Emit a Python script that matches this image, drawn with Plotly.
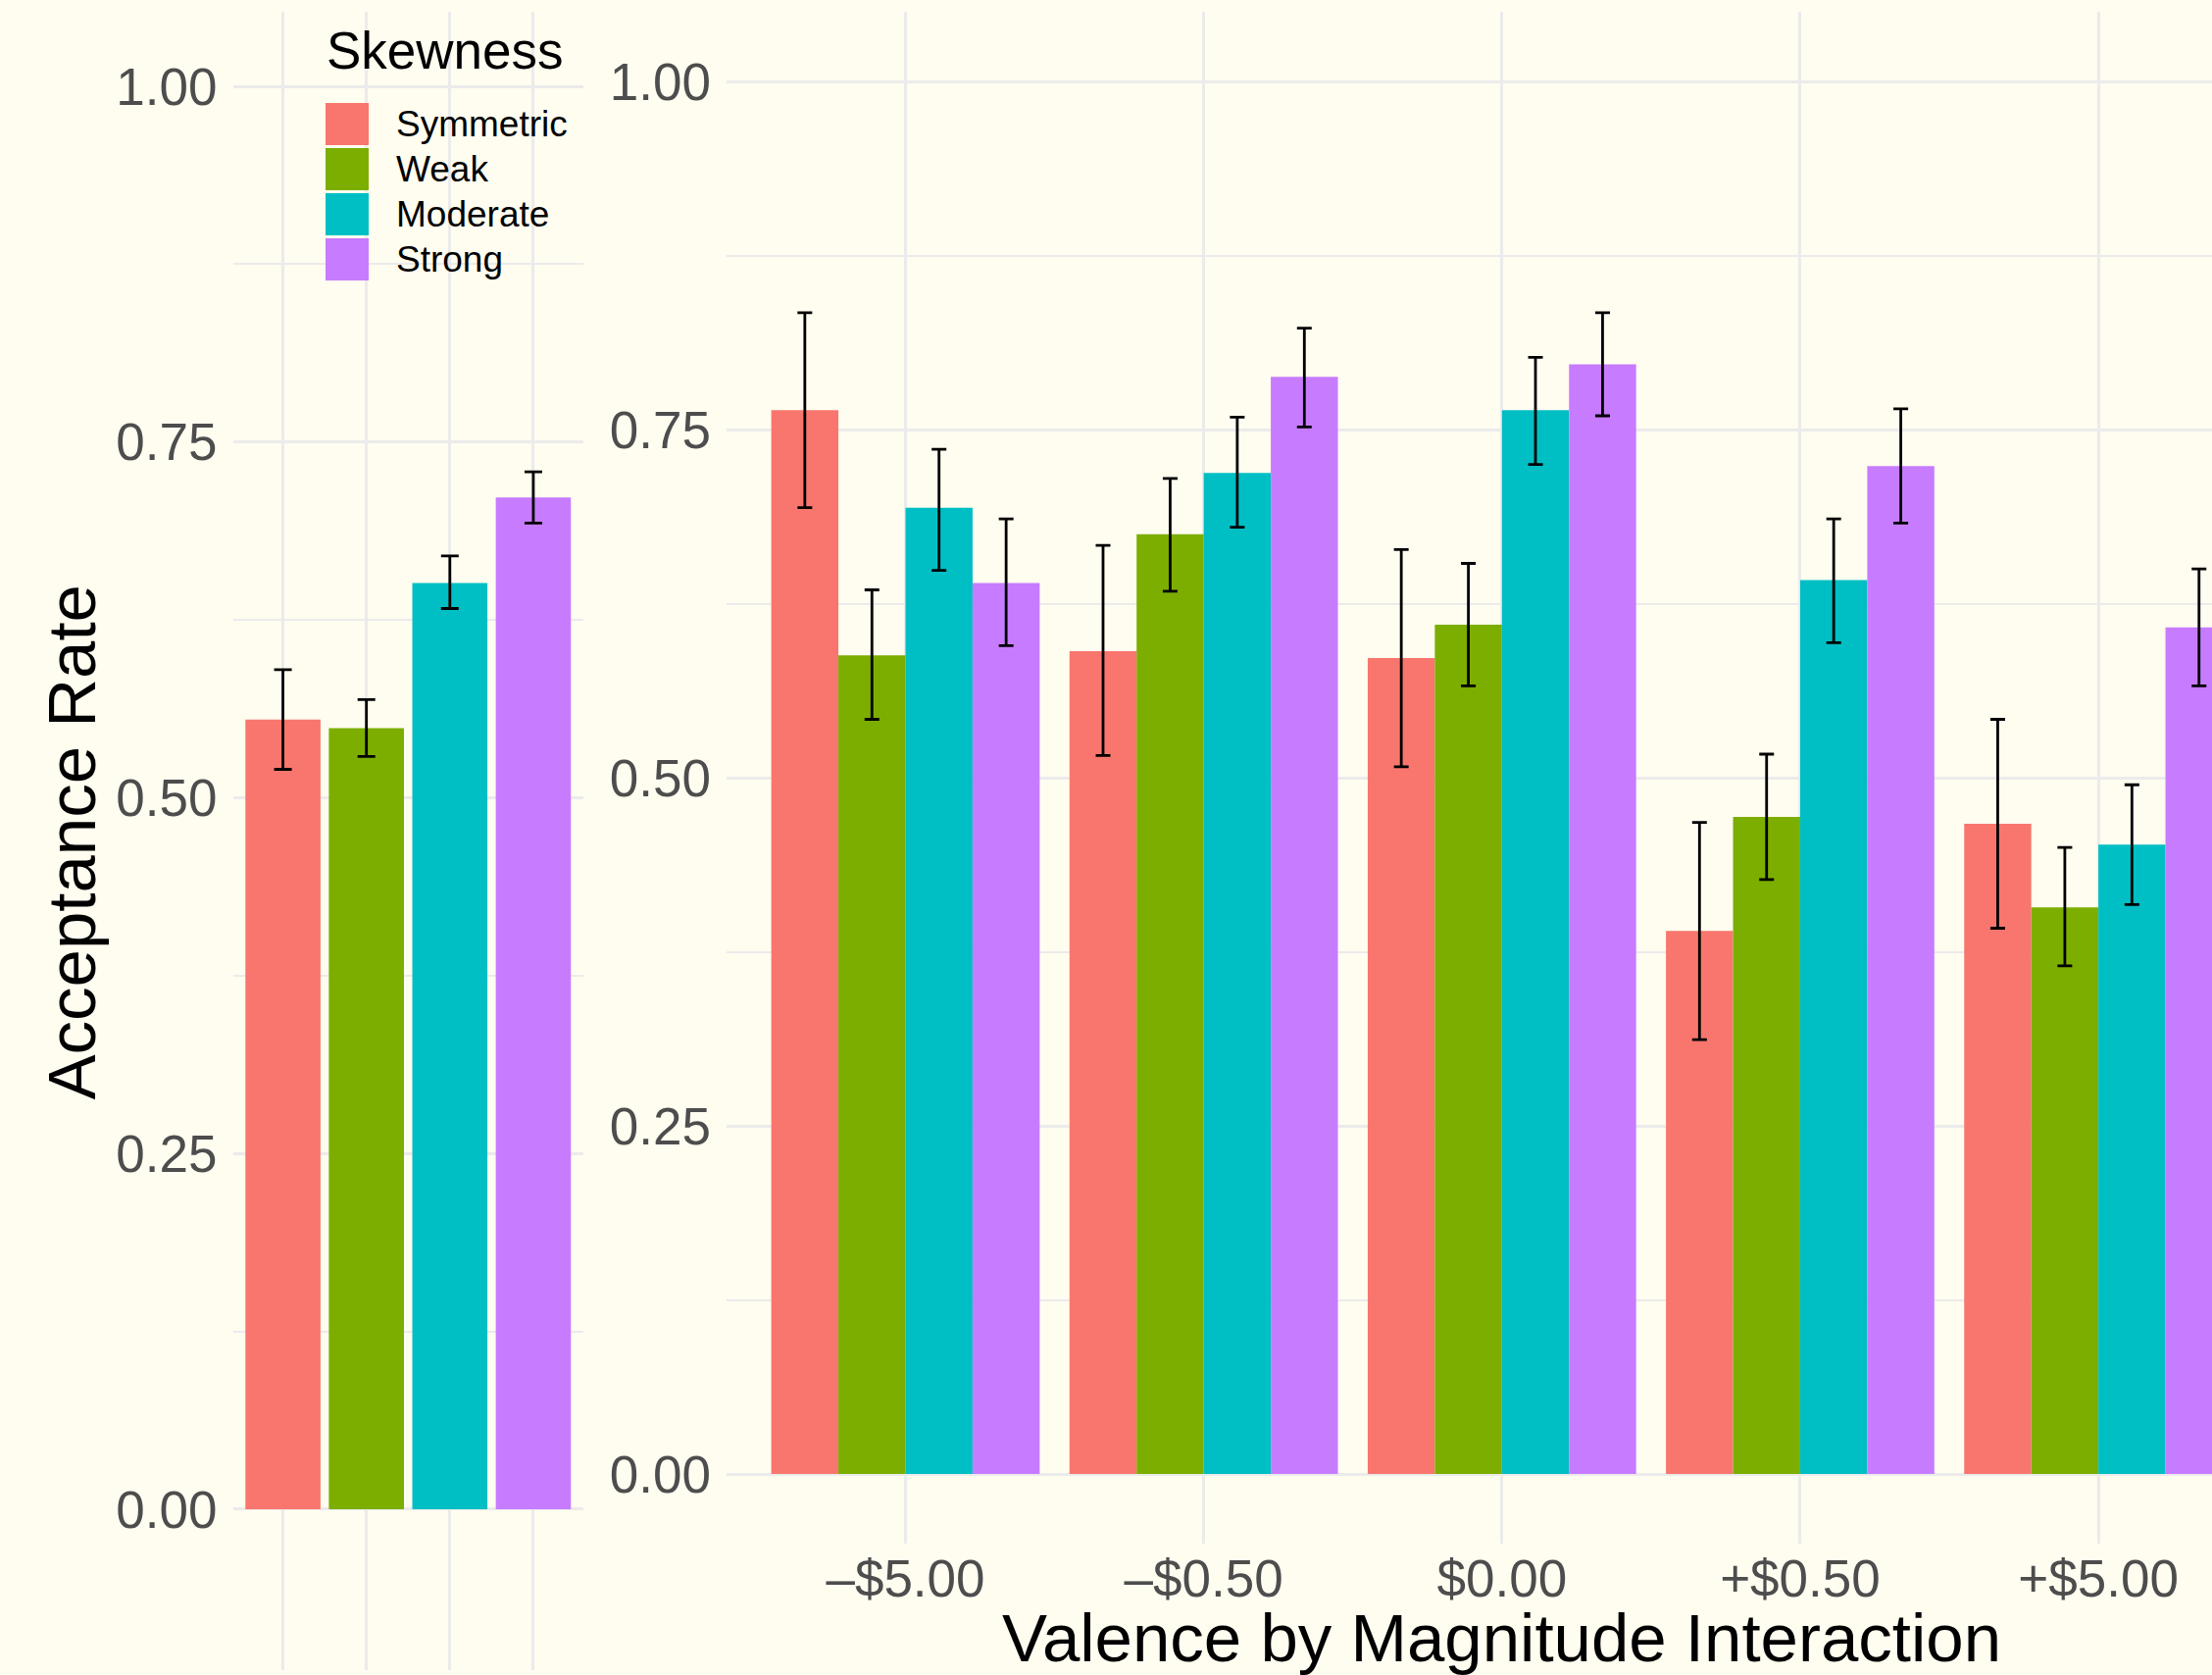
import plotly.graph_objects as go

# ---------------- data ----------------
skew_levels = ["Symmetric", "Weak", "Moderate", "Strong"]
skew_colors = ["#F8766D", "#7CAE00", "#00BFC4", "#C77CFF"]

overall_mean = [0.555, 0.549, 0.651, 0.711]
overall_lo = [0.520, 0.529, 0.633, 0.693]
overall_hi = [0.590, 0.569, 0.670, 0.729]

conditions = ["\u2013$5.00", "\u2013$0.50", "$0.00", "+$0.50", "+$5.00"]

sym_mean = [0.764, 0.591, 0.586, 0.390, 0.467]
sym_lo = [0.694, 0.516, 0.508, 0.312, 0.392]
sym_hi = [0.834, 0.667, 0.664, 0.468, 0.542]

weak_mean = [0.588, 0.675, 0.610, 0.472, 0.407]
weak_lo = [0.542, 0.634, 0.566, 0.427, 0.365]
weak_hi = [0.635, 0.715, 0.654, 0.517, 0.450]

mod_mean = [0.694, 0.719, 0.764, 0.642, 0.452]
mod_lo = [0.649, 0.680, 0.725, 0.597, 0.409]
mod_hi = [0.736, 0.759, 0.802, 0.686, 0.495]

strong_mean = [0.640, 0.788, 0.797, 0.724, 0.608]
strong_lo = [0.595, 0.752, 0.760, 0.683, 0.566]
strong_hi = [0.686, 0.823, 0.834, 0.765, 0.650]

y_ticks = [0, 0.25, 0.5, 0.75, 1.0]
y_ticktext = ["0.00", "0.25", "0.50", "0.75", "1.00"]
y_minor = [0.125, 0.375, 0.625, 0.875]

# ---------------- style ----------------
W, H = 2256, 1708
BG = "#FFFCF0"
GRID = "#EBEBEB"
FONT = "Liberation Sans, Arial, Helvetica, sans-serif"
TICK_COLOR = "#4D4D4D"


def px_x(p):
    return p / W


def px_y(p):
    return 1 - p / H


fig = go.Figure()

# left panel: overall by skewness
fig.add_trace(go.Bar(
    x=skew_levels, y=overall_mean,
    marker=dict(color=skew_colors, line=dict(width=0)),
    error_y=dict(type="data", symmetric=False,
                 array=[h - m for h, m in zip(overall_hi, overall_mean)],
                 arrayminus=[m - l for m, l in zip(overall_mean, overall_lo)],
                 color="black", thickness=2.8, width=9),
    xaxis="x", yaxis="y", showlegend=False,
))

# right panel: by condition
series = [
    (sym_mean, sym_lo, sym_hi),
    (weak_mean, weak_lo, weak_hi),
    (mod_mean, mod_lo, mod_hi),
    (strong_mean, strong_lo, strong_hi),
]
for name, color, (m, lo, hi) in zip(skew_levels, skew_colors, series):
    fig.add_trace(go.Bar(
        x=conditions, y=m, name=name,
        marker=dict(color=color, line=dict(width=0)),
        error_y=dict(type="data", symmetric=False,
                     array=[h - v for h, v in zip(hi, m)],
                     arrayminus=[v - l for v, l in zip(m, lo)],
                     color="black", thickness=2.8, width=7.5),
        xaxis="x2", yaxis="y2", showlegend=False,
    ))

common_y = dict(
    tickmode="array", tickvals=y_ticks, ticktext=y_ticktext,
    showgrid=True, gridcolor=GRID, gridwidth=2.7,
    minor=dict(tickvals=y_minor, showgrid=True, gridcolor=GRID, gridwidth=1.6, ticks=""),
    zeroline=False, showline=False, ticks="",
    tickfont=dict(family=FONT, size=53, color=TICK_COLOR),
    ticklabelstandoff=15,
)
common_x = dict(
    type="category", showgrid=True, gridcolor=GRID, gridwidth=2.7,
    zeroline=False, showline=False, ticks="",
)

fig.update_layout(
    width=W, height=H,
    margin=dict(l=0, r=0, t=0, b=0, pad=0),
    paper_bgcolor=BG, plot_bgcolor=BG,
    template="none",
    barmode="group", bargap=0.1, bargroupgap=0,
    font=dict(family=FONT, color="black"),
    xaxis=dict(common_x, domain=[px_x(237.5), px_x(595)], range=[-0.6, 3.6],
               showticklabels=False, anchor="y"),
    yaxis=dict(common_y, domain=[px_y(1703), px_y(11.5)], range=[-0.11303, 1.05272],
               anchor="x"),
    xaxis2=dict(common_x, domain=[px_x(741), 1.0], range=[-0.6, 4.381],
                showticklabels=True, anchor="y2",
                tickfont=dict(family=FONT, size=53, color=TICK_COLOR),
                ticklabelstandoff=0),
    yaxis2=dict(common_y, domain=[px_y(1574), px_y(12.3)], range=[-0.05, 1.05],
                anchor="x2"),
    showlegend=False,
)

annotations = []
shapes = []

# manual legend
annotations.append(dict(text="Skewness", x=px_x(331), y=px_y(51.7), xref="paper", yref="paper",
                        xanchor="left", yanchor="middle", showarrow=False,
                        font=dict(family=FONT, size=53, color="black")))
key_tops = [105, 151, 197, 243]
for name, color, top in zip(skew_levels, skew_colors, key_tops):
    shapes.append(dict(type="rect", xref="paper", yref="paper",
                       x0=px_x(332), x1=px_x(376), y0=px_y(top + 43), y1=px_y(top),
                       fillcolor=color, line=dict(width=0), layer="above"))
    annotations.append(dict(text=name, x=px_x(402), y=px_y(top + 21.5), xref="paper", yref="paper",
                            xanchor="left", yanchor="middle", showarrow=False,
                            font=dict(family=FONT, size=37, color="black")))

# axis titles
annotations.append(dict(text="Acceptance Rate", x=px_x(73), y=px_y(858.5), xref="paper", yref="paper",
                        xanchor="center", yanchor="middle", textangle=-90, showarrow=False,
                        font=dict(family=FONT, size=69, color="black")))
annotations.append(dict(text="Valence by Magnitude Interaction", x=px_x(1531), y=px_y(1670),
                        xref="paper", yref="paper", xanchor="center", yanchor="middle",
                        showarrow=False, font=dict(family=FONT, size=69, color="black")))

fig.update_layout(annotations=annotations, shapes=shapes)

fig.write_html(
    "out.html",
    config={"displayModeBar": False},
    post_script="document.body.style.margin='0';document.body.style.background='" + BG + "';",
)
